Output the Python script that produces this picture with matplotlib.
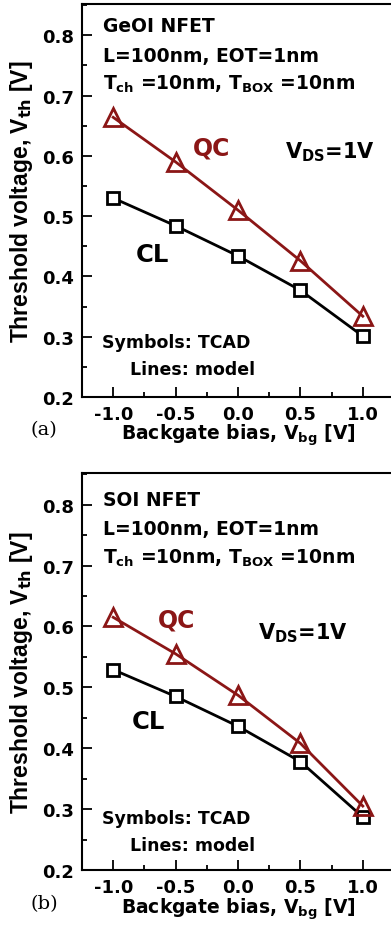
import matplotlib
matplotlib.use("Agg")
import matplotlib.pyplot as plt
from matplotlib.ticker import MultipleLocator
from matplotlib.font_manager import FontProperties

plt.rcParams['font.family'] = ['DejaVu Sans']
plt.rcParams['font.weight'] = 'bold'
plt.rcParams['mathtext.fontset'] = 'custom'
plt.rcParams['mathtext.rm'] = 'DejaVu Sans:bold'
plt.rcParams['mathtext.bf'] = 'DejaVu Sans:bold'
plt.rcParams['mathtext.default'] = 'rm'

# Data
vbg = [-1.0, -0.5, 0.0, 0.5, 1.0]
geoi_qc = [0.664, 0.590, 0.510, 0.426, 0.334]
geoi_cl = [0.530, 0.484, 0.434, 0.377, 0.301]
soi_qc = [0.615, 0.555, 0.487, 0.408, 0.305]
soi_cl = [0.529, 0.485, 0.436, 0.378, 0.287]
xticks = [-1.0, -0.5, 0.0, 0.5, 1.0]
yticks = [0.2, 0.3, 0.4, 0.5, 0.6, 0.7, 0.8]

QC_COLOR = '#8b1616'

fig = plt.figure(figsize=(3.91, 9.28), dpi=100)

panels = [
    dict(rect=[82/391, 1-398/928, 312/391, 393/928], qc=geoi_qc, cl=geoi_cl,
         title='GeOI NFET', tl=[0.807, 0.757, 0.711],
         qcpos=(-0.362, 0.603), vds=(0.374, 0.598), clpos=(-0.818, 0.4255),
         sym=(-1.09, 0.283), lin=(-0.866, 0.238), tag='(a)', tagy=1-435/928,
         xlab_y=-25/393),
    dict(rect=[82/391, 1-871/928, 312/391, 397/928], qc=soi_qc, cl=soi_cl,
         title='SOI NFET', tl=[0.800, 0.751, 0.704],
         qcpos=(-0.642, 0.600), vds=(0.158, 0.581), clpos=(-0.85, 0.433),
         sym=(-1.09, 0.2767), lin=(-0.866, 0.233), tag='(b)', tagy=1-909/928,
         xlab_y=-26/397),
]

ylab_fp = FontProperties(family='Liberation Sans', weight='bold', size=16.5)

for p in panels:
    ax = fig.add_axes(p['rect'])
    ax.plot(vbg, p['cl'], color='black', lw=2.0, marker='s', ms=8,
            mfc='white', mec='black', mew=2.0, zorder=3)
    ax.plot(vbg, p['qc'], color=QC_COLOR, lw=2.0, marker='^', ms=12.5,
            mfc='none', mec=QC_COLOR, mew=2.0, zorder=4)
    ax.set_xlim(-1.25, 1.25)
    ax.set_ylim(0.2, 0.852)
    ax.set_xticks(xticks)
    ax.set_yticks(yticks)
    ax.set_xticklabels(['%.1f' % v for v in xticks])
    ax.set_yticklabels(['%.1f' % v for v in yticks])
    ax.xaxis.set_minor_locator(MultipleLocator(0.25))
    ax.yaxis.set_minor_locator(MultipleLocator(0.05))
    ax.tick_params(which='both', direction='in', labelsize=13, width=1.3,
                   top=False, right=False)
    ax.tick_params(which='major', length=7, pad=6)
    ax.tick_params(which='minor', length=3.5)
    for s in ax.spines.values():
        s.set_linewidth(1.5)
    ax.spines['right'].set_visible(False)
    ax.set_xlabel(r'Backgate bias, V$_{\rm bg}$ [V]', fontsize=13.5, fontweight='bold',
                  va='top')
    ax.set_ylabel(r'Threshold voltage, V$_{\rm th}$ [V]', fontproperties=ylab_fp)
    ax.xaxis.set_label_coords(0.5, p['xlab_y'])
    ax.yaxis.set_label_coords(-0.15, 0.5)

    x0 = -1.082
    ax.text(x0, p['tl'][0], p['title'], fontsize=13.5, va='baseline', ha='left')
    ax.text(x0, p['tl'][1], 'L=100nm, EOT=1nm', fontsize=13.5, va='baseline', ha='left')
    ax.text(x0, p['tl'][2], r'T$_{\rm ch}$ =10nm, T$_{\rm BOX}$ =10nm', fontsize=13.5,
            va='baseline', ha='left')
    ax.text(*p['qcpos'], 'QC', fontsize=17, color=QC_COLOR, va='baseline', ha='left')
    ax.text(*p['clpos'], 'CL', fontsize=17.5, color='black', va='baseline', ha='left')
    ax.text(*p['vds'], r'V$_{\rm DS}$=1V', fontsize=15, va='baseline', ha='left')
    ax.text(*p['sym'], 'Symbols: TCAD', fontsize=12.5, va='baseline', ha='left')
    ax.text(*p['lin'], 'Lines: model', fontsize=12.5, va='baseline', ha='left')

    fig.text(30/391, p['tagy'], p['tag'], fontsize=14, family='DejaVu Serif',
             fontweight='normal', va='baseline', ha='left')

fig.savefig('out.png', dpi=100)
